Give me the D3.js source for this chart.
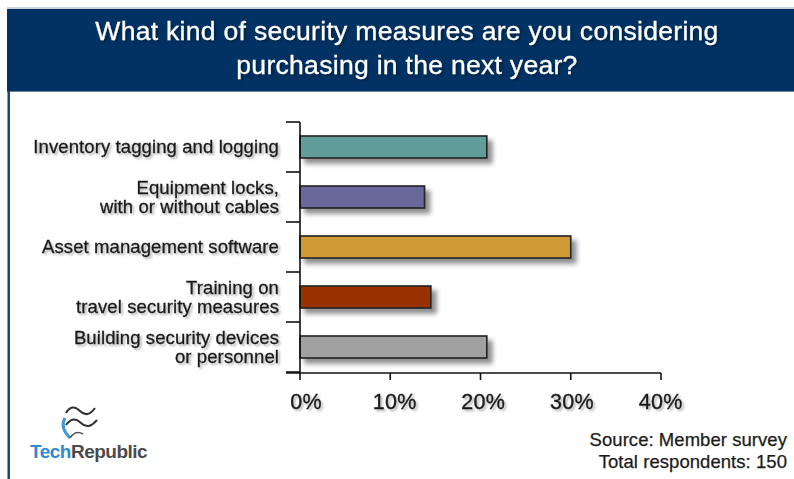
<!DOCTYPE html>
<html>
<head>
<meta charset="utf-8">
<script src="https://cdn.jsdelivr.net/npm/d3@7/dist/d3.min.js"></script>
<style>
  html, body { margin: 0; padding: 0; background: #fff; }
  svg { display: block; }
  text { font-family: "Liberation Sans", Arial, sans-serif; }
</style>
</head>
<body>
<svg id="chart" width="794" height="479"></svg>
<script>
const categories = [
  ["Inventory tagging and logging"],
  ["Equipment locks,", "with or without cables"],
  ["Asset management software"],
  ["Training on", "travel security measures"],
  ["Building security devices", "or personnel"]
];
const values = [20.7, 13.8, 30, 14.5, 20.7];
const colors = ["#609c99", "#67679b", "#d09a36", "#993300", "#a1a1a1"];
const xTicks = [0, 10, 20, 30, 40];
const titleLines = ["What kind of security measures are you considering", "purchasing in the next year?"];
const sourceLines = ["Source: Member survey", "Total respondents: 150"];

const svg = d3.select("#chart");

const defs = svg.append("defs");
const f = defs.append("filter").attr("id", "shadow").attr("x", "-10%").attr("y", "-50%").attr("width", "130%").attr("height", "250%");
f.append("feGaussianBlur").attr("in", "SourceAlpha").attr("stdDeviation", 2.5).attr("result", "b");
f.append("feOffset").attr("dx", 5).attr("dy", 5).attr("result", "o");
f.append("feComponentTransfer").append("feFuncA").attr("type", "linear").attr("slope", 0.45);
const fm = f.append("feMerge");
fm.append("feMergeNode");
fm.append("feMergeNode").attr("in", "SourceGraphic");

const ts = defs.append("filter").attr("id", "tshadow").attr("x", "-5%").attr("y", "-30%").attr("width", "115%").attr("height", "160%");
ts.append("feGaussianBlur").attr("in", "SourceAlpha").attr("stdDeviation", 1.2);
ts.append("feOffset").attr("dx", 2).attr("dy", 2);
ts.append("feComponentTransfer").append("feFuncA").attr("type", "linear").attr("slope", 0.3);
const tm = ts.append("feMerge");
tm.append("feMergeNode");
tm.append("feMergeNode").attr("in", "SourceGraphic");

// frame / header
svg.append("line").attr("x1", 7).attr("x2", 794).attr("y1", 8).attr("y2", 8).attr("stroke", "#b9c3cf").attr("stroke-width", 1.5);
svg.append("rect").attr("x", 7).attr("y", 9).attr("width", 787).attr("height", 82).attr("fill", "#023263");
svg.append("line").attr("x1", 7).attr("x2", 794).attr("y1", 91.5).attr("y2", 91.5).attr("stroke", "#6f86a3").attr("stroke-width", 1);
svg.append("rect").attr("x", 7.5).attr("y", 91).attr("width", 2.5).attr("height", 388).attr("fill", "#1f4576");

svg.append("g").selectAll("text").data(titleLines).join("text")
  .attr("x", 407).attr("y", (d, i) => 40 + i * 34)
  .attr("text-anchor", "middle").attr("fill", "#fff")
  .attr("stroke", "#fff").attr("stroke-width", 0.3)
  .attr("font-size", 26.5).attr("letter-spacing", 0.3).attr("filter", "url(#tshadow)")
  .text(d => d);

// scales
const x = d3.scaleLinear().domain([0, 40]).range([300, 661]);
const y = d3.scaleBand().domain(d3.range(categories.length)).range([122, 372]).paddingInner(0.56).paddingOuter(0.28);

// bars
svg.append("g").selectAll("rect").data(values).join("rect")
  .attr("x", x(0)).attr("y", (d, i) => y(i))
  .attr("width", d => x(d) - x(0)).attr("height", y.bandwidth())
  .attr("fill", (d, i) => colors[i]).attr("stroke", "#222").attr("stroke-width", 1.6)
  .attr("filter", "url(#shadow)");

// axes
const yAxisG = svg.append("g");
yAxisG.append("line").attr("x1", x(0)).attr("x2", x(0)).attr("y1", 122).attr("y2", 373).attr("stroke", "#111").attr("stroke-width", 1.6);
const bounds = d3.range(categories.length + 1).map(i => 122 + i * y.step());
yAxisG.selectAll(".yt").data(bounds).join("line")
  .attr("x1", 286).attr("x2", x(0)).attr("y1", d => d).attr("y2", d => d)
  .attr("stroke", "#111").attr("stroke-width", 1.6);

const xAxisG = svg.append("g");
xAxisG.append("line").attr("x1", 286).attr("x2", x(40)).attr("y1", 373).attr("y2", 373).attr("stroke", "#111").attr("stroke-width", 1.6);
xAxisG.selectAll(".xt").data(xTicks).join("line")
  .attr("x1", d => x(d)).attr("x2", d => x(d)).attr("y1", 373).attr("y2", 380)
  .attr("stroke", "#111").attr("stroke-width", 1.6);
xAxisG.selectAll("text").data(xTicks).join("text")
  .attr("x", (d, i) => x(d) + 6 - i * 1.6).attr("y", 409)
  .attr("text-anchor", "middle").attr("font-size", 21.5).attr("letter-spacing", 0.3).attr("fill", "#1a1a1a")
  .attr("stroke", "#1a1a1a").attr("stroke-width", 0.35)
  .attr("filter", "url(#tshadow)")
  .text(d => d + "%");

// category labels
const lab = svg.append("g").selectAll("g").data(categories).join("g");
lab.each(function(lines, i) {
  const cy = y(i) + y.bandwidth() / 2;
  const lh = 19;
  const start = cy - (lines.length - 1) * lh / 2 + 6;
  d3.select(this).selectAll("text").data(lines).join("text")
    .attr("x", 279).attr("y", (d, j) => start + j * lh)
    .attr("text-anchor", "end").attr("font-size", 18.5).attr("letter-spacing", 0.1).attr("fill", "#1a1a1a")
    .attr("stroke", "#1a1a1a").attr("stroke-width", 0.3)
    .attr("filter", "url(#tshadow)")
    .text(d => d);
});

// source
svg.append("g").selectAll("text").data(sourceLines).join("text")
  .attr("x", 787).attr("y", (d, i) => 446 + i * 22)
  .attr("text-anchor", "end").attr("font-size", 18.5).attr("letter-spacing", 0.05).attr("fill", "#1a1a1a")
  .attr("stroke", "#1a1a1a").attr("stroke-width", 0.25)
  .text(d => d);

// logo
const logo = svg.append("g");
logo.append("path").attr("d", "M66,413 C70,406 75,406 80,411 C85,416 90,415 95,408").attr("fill", "none").attr("stroke", "#333").attr("stroke-width", 2);
logo.append("path").attr("d", "M66,425 C71,418 76,418 81,423 C86,428 91,427 97,420").attr("fill", "none").attr("stroke", "#333").attr("stroke-width", 2);
logo.append("path").attr("d", "M65,418 C61,425 64,432 70,438").attr("fill", "none").attr("stroke", "#3d9ad6").attr("stroke-width", 3);
logo.append("path").attr("d", "M70,438 C74,432 78,431 83,434").attr("fill", "none").attr("stroke", "#555").attr("stroke-width", 1.5);
const lt = logo.append("text").attr("x", 30).attr("y", 458).attr("font-size", 19).attr("font-weight", "bold").attr("letter-spacing", -0.5);
lt.append("tspan").attr("fill", "#2e8bd0").text("Tech");
lt.append("tspan").attr("fill", "#4a4a4a").text("Republic");
</script>
</body>
</html>
